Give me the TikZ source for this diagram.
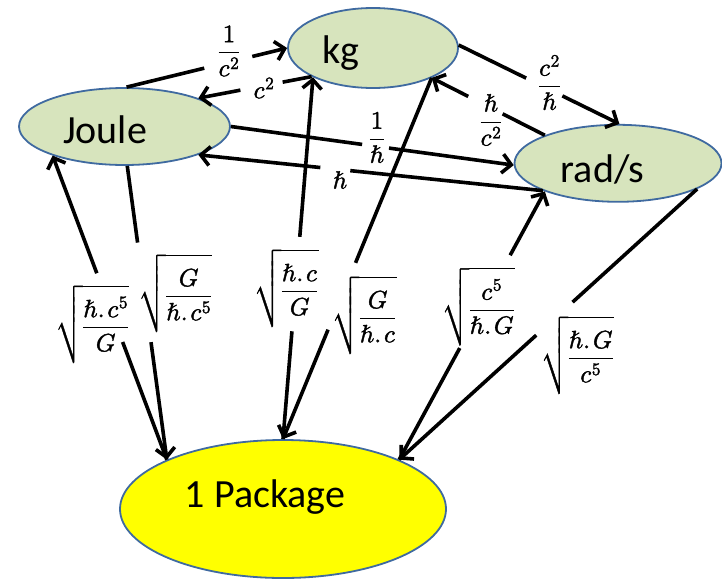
\documentclass[tikz,border=0pt]{standalone}
\usepackage{amsmath}
\usepackage{unicode-math}
\setmainfont{Carlito}
\setmathfont{Latin Modern Math}[FakeBold=1.6]
\usetikzlibrary{arrows.meta,shapes.geometric,calc}

\definecolor{unitfill}{HTML}{D7E4BD}
\definecolor{rimblue}{HTML}{3F6AA0}
\definecolor{pkgfill}{HTML}{FFFF00}

% display fraction with a heavier bar
\newcommand\ffrac[2]{\genfrac{}{}{1.2pt}{0}{#1}{#2}}
% square root of a tall display fraction
\newcommand\rootfrac[2]{\sqrt{\rule[-29pt]{0pt}{75pt}\ffrac{#1}{#2}}}
% connector with a gap left open for its label: from, to, gap start, gap end
\newcommand\gapped[4]{%
  \draw[conn] (#1) -- ($(#1)!#3!(#2)$);
  \draw[tip] ($(#1)!#4!(#2)$) -- (#2);}

\begin{document}
\begin{tikzpicture}[x=1pt,y=-1pt,
  unit/.style={ellipse,draw=rimblue,line width=1.8pt,fill=unitfill,inner sep=0pt},
  pkg/.style={ellipse,draw=rimblue,line width=1.8pt,fill=pkgfill,inner sep=0pt},
  word/.style={font=\fontsize{40}{48}\selectfont,anchor=base,inner sep=0pt},
  conv/.style={font=\fontsize{25}{29}\selectfont,inner sep=0pt},
  conn/.style={line width=3.6pt},
  tip/.style={conn,-{Straight Barb[length=9pt,width=19pt]}},
]
\useasboundingbox (0,0) rectangle (722,581);

% unit ellipses
\node[unit,minimum width=170pt,minimum height=80pt] (kg) at (373,48) {};
\node[unit,minimum width=211pt,minimum height=77pt] (J) at (124.5,126.5) {};
\node[unit,minimum width=207pt,minimum height=77pt] (rad) at (618,163.3) {};
\node[pkg,minimum width=326pt,minimum height=138pt] (P) at (283,509) {};

\node[word] (kgname) at (341,63) {kg};
\node[word] (jname) at (105,143) {Joule};
\node[word] (radname) at (602.5,182) {rad/s};
\node[word] (pname) at (265,507) {1 Package};

% conversions between the units
\gapped{J.87}{kg.west}{0.484}{0.783}
\gapped{kg.205}{J.21}{0.256}{0.629}
\gapped{J.0}{rad.181}{0.464}{0.559}
\gapped{rad.200}{J.-21}{0.559}{0.646}
\gapped{kg.2}{rad.88}{0.42}{0.645}
\gapped{rad.159}{kg.-27}{0.373}{0.677}

% conversions to and from the package
\gapped{P.157}{J.202}{0.387}{0.613}
\gapped{J.-86}{P.157}{0.261}{0.6}
\gapped{P.90}{kg.206}{0.298}{0.559}
\gapped{kg.-27}{P.90}{0.512}{0.697}
\gapped{P.23}{rad.201}{0.416}{0.762}
\gapped{rad.-18}{P.23}{0.418}{0.540}

% factors
\node[conv] (l1) at (229,51) {$\ffrac{1}{c^2}$};
\node[conv] (l2) at (264,88) {$c^2$};
\node[conv] (l3) at (377,137.5) {$\ffrac{1}{\hslash}$};
\node[conv] (l4) at (340,180) {$\hslash$};
\node[conv] (l5) at (549.5,82.5) {$\ffrac{c^2}{\hslash}$};
\node[conv] (l6) at (491,120) {$\ffrac{\hslash}{c^2}$};
\node[conv] (l7) at (92.5,324) {$\rootfrac{\hslash.\mkern2mu c^5}{G}$};
\node[conv] (l8) at (175.5,293) {$\rootfrac{G}{\hslash.\mkern2mu c^5}$};
\node[conv] (l9) at (286.5,288) {$\rootfrac{\hslash.\mkern2mu c}{G}$};
\node[conv] (l10) at (364.5,315) {$\rootfrac{G}{\hslash.\mkern2mu c}$};
\node[conv] (l11) at (478.5,306.5) {$\rootfrac{c^5}{\hslash.\mkern2mu G}$};
\node[conv] (l12) at (577.5,355) {$\rootfrac{\hslash.\mkern2mu G}{c^5}$};
\end{tikzpicture}
\end{document}
